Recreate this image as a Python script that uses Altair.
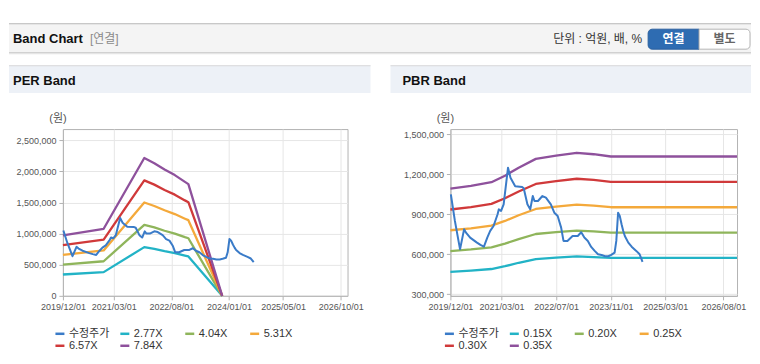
import altair as alt
import pandas as pd

PRICE_NAME = "수정주가"

# adjusted share price (shared by both panels)
PRICE_DATES = [
    "2019/12/05", "2020/01/10", "2020/02/25", "2020/04/01", "2020/04/20", "2020/05/25",
    "2020/07/25", "2020/08/25", "2020/09/25", "2020/10/25", "2020/11/20", "2020/12/20",
    "2021/01/25", "2021/02/05", "2021/02/25", "2021/03/20", "2021/04/28", "2021/05/20",
    "2021/07/01", "2021/09/01", "2021/09/15", "2021/10/18", "2021/11/12", "2021/12/05",
    "2021/12/20", "2022/01/20", "2022/03/01", "2022/04/01", "2022/05/15", "2022/06/15",
    "2022/07/15", "2022/08/15", "2022/09/05", "2022/10/10", "2022/11/25", "2023/01/10",
    "2023/02/10", "2023/03/10", "2023/04/10", "2023/05/10", "2023/06/10", "2023/07/10",
    "2023/08/10", "2023/09/10", "2023/10/10", "2023/11/05", "2023/12/05", "2023/12/20",
    "2024/01/05", "2024/01/20", "2024/02/05", "2024/02/20", "2024/03/05", "2024/04/05",
    "2024/05/05", "2024/06/15", "2024/07/15", "2024/08/10",
]
PRICE_VALUES = [
    1050000, 850000, 637000, 787000, 760000, 725000,
    687000, 670000, 657000, 725000, 775000, 812000,
    900000, 937000, 925000, 975000, 1250000, 1175000,
    1110000, 1105000, 1095000, 975000, 937000, 1037000,
    1000000, 1000000, 1037000, 1025000, 975000, 912000,
    887000, 800000, 700000, 700000, 737000, 737000,
    765000, 725000, 700000, 655000, 625000, 600000,
    595000, 585000, 585000, 595000, 612000, 700000,
    912000, 887000, 825000, 775000, 737000, 687000,
    657000, 625000, 600000, 542000,
]

# PER band
PER_DATES = ["2019/12/01", "2020/12/01", "2021/12/01", "2022/03/01", "2022/06/01",
             "2022/09/01", "2022/12/01", "2023/01/01", "2023/11/01"]
PER_LABELS = ["2.77X", "4.04X", "5.31X", "6.57X", "7.84X"]
PER_277 = [343000, 381000, 783000, 753000, 717000, 686000, 647000, 634000, 0]
PER_404 = [501000, 556000, 1141000, 1099000, 1046000, 1000000, 943000, 925000, 0]
PER_531 = [658000, 730000, 1500000, 1444000, 1375000, 1314000, 1240000, 1216000, 0]
PER_657 = [815000, 903000, 1856000, 1787000, 1702000, 1626000, 1534000, 1505000, 0]
PER_784 = [972000, 1078000, 2215000, 2132000, 2031000, 1940000, 1831000, 1795000, 0]
PER_Y_TICKS = [0, 500000, 1000000, 1500000, 2000000, 2500000]
PER_Y_DOMAIN = [0, 2680000]
PER_X_TICKS = [(2019, 12), (2021, 3), (2022, 8), (2024, 1), (2025, 5), (2026, 10)]

# PBR band
PBR_DATES = ["2019/12/01", "2020/06/01", "2020/12/01", "2021/04/01", "2021/08/01", "2022/01/01",
             "2022/07/01", "2023/01/01", "2023/06/01", "2023/11/01", "2026/12/01"]
PBR_LABELS = ["0.15X", "0.20X", "0.25X", "0.30X", "0.35X"]
PBR_015 = [468000, 477000, 489000, 510000, 536000, 564000, 575000, 584000, 579000, 572000, 572000]
PBR_020 = [624000, 636000, 652000, 680000, 714000, 752000, 766000, 778000, 772000, 762000, 762000]
PBR_025 = [780000, 795000, 815000, 850000, 893000, 940000, 958000, 973000, 965000, 953000, 953000]
PBR_030 = [936000, 954000, 978000, 1020000, 1071000, 1128000, 1149000, 1167000, 1158000, 1143000, 1143000]
PBR_035 = [1092000, 1113000, 1141000, 1190000, 1250000, 1316000, 1341000, 1362000, 1351000, 1334000, 1334000]
PBR_Y_TICKS = [300000, 600000, 900000, 1200000, 1500000]
PBR_Y_DOMAIN = [287500, 1540000]
PBR_X_TICKS = [(2019, 12), (2021, 3), (2022, 7), (2023, 11), (2025, 3), (2026, 8)]

X_START = (2019, 12)
X_END = (2026, 12)

SERIES_COLORS = ["#3a7bc8", "#22b3c6", "#8fb55b", "#f4a93b", "#d0393a", "#8e519c"]

FONT = "Liberation Sans, Noto Sans CJK KR"
ONE = pd.DataFrame({"k": [0]})
RIGHT = 689  # right edge of the page decoration (relative to PER plot origin)


def dt(ym):
    return alt.DateTime(year=ym[0], month=ym[1], date=1)


def long_df(dates, labels, arrays):
    rows = []
    for lab, arr in zip(labels, arrays):
        for d, v in zip(dates, arr):
            rows.append({"date": d, "value": v, "series": lab})
    return pd.DataFrame(rows)


def box(x1, x2, y1, y2, **props):
    return alt.Chart(ONE).mark_rect(**props).encode(
        x=alt.value(x1), x2=alt.value(x2), y=alt.value(y1), y2=alt.value(y2))


def label(x, y, text, **props):
    return alt.Chart(ONE).mark_text(font=FONT, baseline="middle", **props).encode(
        x=alt.value(x), y=alt.value(y), text=alt.value(text))


def panel(band_df, labels, y_domain, y_ticks, x_ticks, width, legend_x, extra):
    color = alt.Color(
        "series:N",
        scale=alt.Scale(domain=[PRICE_NAME] + labels, range=SERIES_COLORS),
        legend=alt.Legend(
            title=None, orient="none", legendX=legend_x, legendY=199,
            direction="horizontal", columns=4, gridAlign="all",
            columnPadding=5, rowPadding=1, padding=0,
            symbolType="stroke", symbolSize=81, symbolStrokeWidth=2.5,
            labelFont=FONT, labelFontSize=11, labelColor="#333", labelOffset=3,
        ),
    )
    x = alt.X("date:T",
              scale=alt.Scale(domain=[dt(X_START), dt(X_END)], nice=False),
              axis=alt.Axis(values=[dt(t) for t in x_ticks], format="%Y/%m/%d",
                            formatType="time", title=None, labelOverlap=False,
                            labelFlush=False))
    y = alt.Y("value:Q",
              scale=alt.Scale(domain=y_domain, nice=False, zero=False),
              axis=alt.Axis(values=y_ticks, format=",d", title=None))
    bands = alt.Chart(band_df).mark_line(strokeWidth=2.3, strokeJoin="round").encode(
        x=x, y=y, color=color, order=alt.Order("date:T"))
    price_df = pd.DataFrame({"date": PRICE_DATES, "value": PRICE_VALUES,
                             "series": [PRICE_NAME] * len(PRICE_DATES)})
    price = alt.Chart(price_df).mark_line(strokeWidth=2, strokeJoin="round").encode(
        x=x, y=y, color=color)
    unit = label(-5, -10, "(원)", fontSize=11, color="#555", align="center")
    return alt.layer(*extra, unit, bands, price).properties(width=width, height=167)


per_df = long_df(PER_DATES, PER_LABELS, [PER_277, PER_404, PER_531, PER_657, PER_784])
pbr_df = long_df(PBR_DATES, PBR_LABELS, [PBR_015, PBR_020, PBR_025, PBR_030, PBR_035])

# page decoration, in pixels relative to the PER plot origin
decor = [
    box(-54, RIGHT, -106, -76, fill="#f4f4f4"),
    box(-54, RIGHT, -106, -105, fill="#b9b9b9"),
    box(-54, RIGHT, -77, -76, fill="#c6c6c6"),
    box(-54, RIGHT, -76, -75, fill="#e2e2e2"),
    label(-50, -90, "Band Chart", fontSize=13, fontWeight="bold", color="#111", align="left"),
    label(27, -90, "[연결]", fontSize=12, color="#8a8a8a", align="left"),
    label(580, -90, "단위 : 억원, 배, %", fontSize=12, color="#333", align="right"),
    box(586, 637, -100, -80, fill="#2e6cb2", stroke="#2a5f9e", strokeWidth=1,
        cornerRadiusTopLeft=4, cornerRadiusBottomLeft=4),
    box(637, 688, -100, -80, fill="#ffffff", stroke="#b5b5b5", strokeWidth=1,
        cornerRadiusTopRight=4, cornerRadiusBottomRight=4),
    label(611.5, -90, "연결", fontSize=12, fontWeight="bold", color="#ffffff", align="center"),
    label(662.5, -90, "별도", fontSize=12, fontWeight="bold", color="#666", align="center"),
    box(-54, 308, -64, -36, fill="#edf1f7"),
    box(-54, 308, -64, -63, fill="#d9d9d9"),
    box(328, RIGHT, -64, -36, fill="#edf1f7"),
    box(328, RIGHT, -64, -63, fill="#d9d9d9"),
    label(-50, -48, "PER Band", fontSize=13, fontWeight="bold", color="#111", align="left"),
    label(340, -48, "PBR Band", fontSize=13, fontWeight="bold", color="#111", align="left"),
]

per_chart = panel(per_df, PER_LABELS, PER_Y_DOMAIN, PER_Y_TICKS, PER_X_TICKS, 285, -9, decor)
pbr_chart = panel(pbr_df, PBR_LABELS, PBR_Y_DOMAIN, PBR_Y_TICKS, PBR_X_TICKS, 287, -7, [])

chart = alt.hconcat(per_chart, pbr_chart, spacing=103, bounds="flush").resolve_scale(
    color="independent", x="independent", y="independent"
).resolve_legend(color="independent").properties(
    padding={"left": 0, "top": 14, "right": 0, "bottom": 0},
    background="white",
).configure_view(
    stroke="#b3b3b3", strokeWidth=1
).configure_axis(
    gridColor="#e6e6e6", domainColor="#b3b3b3", tickColor="#b3b3b3",
    labelFont="Liberation Sans", labelFontSize=9, labelColor="#555",
    tickSize=4, labelPadding=3,
)

chart.save("out.html", embed_options={"renderer": "svg", "actions": False})
